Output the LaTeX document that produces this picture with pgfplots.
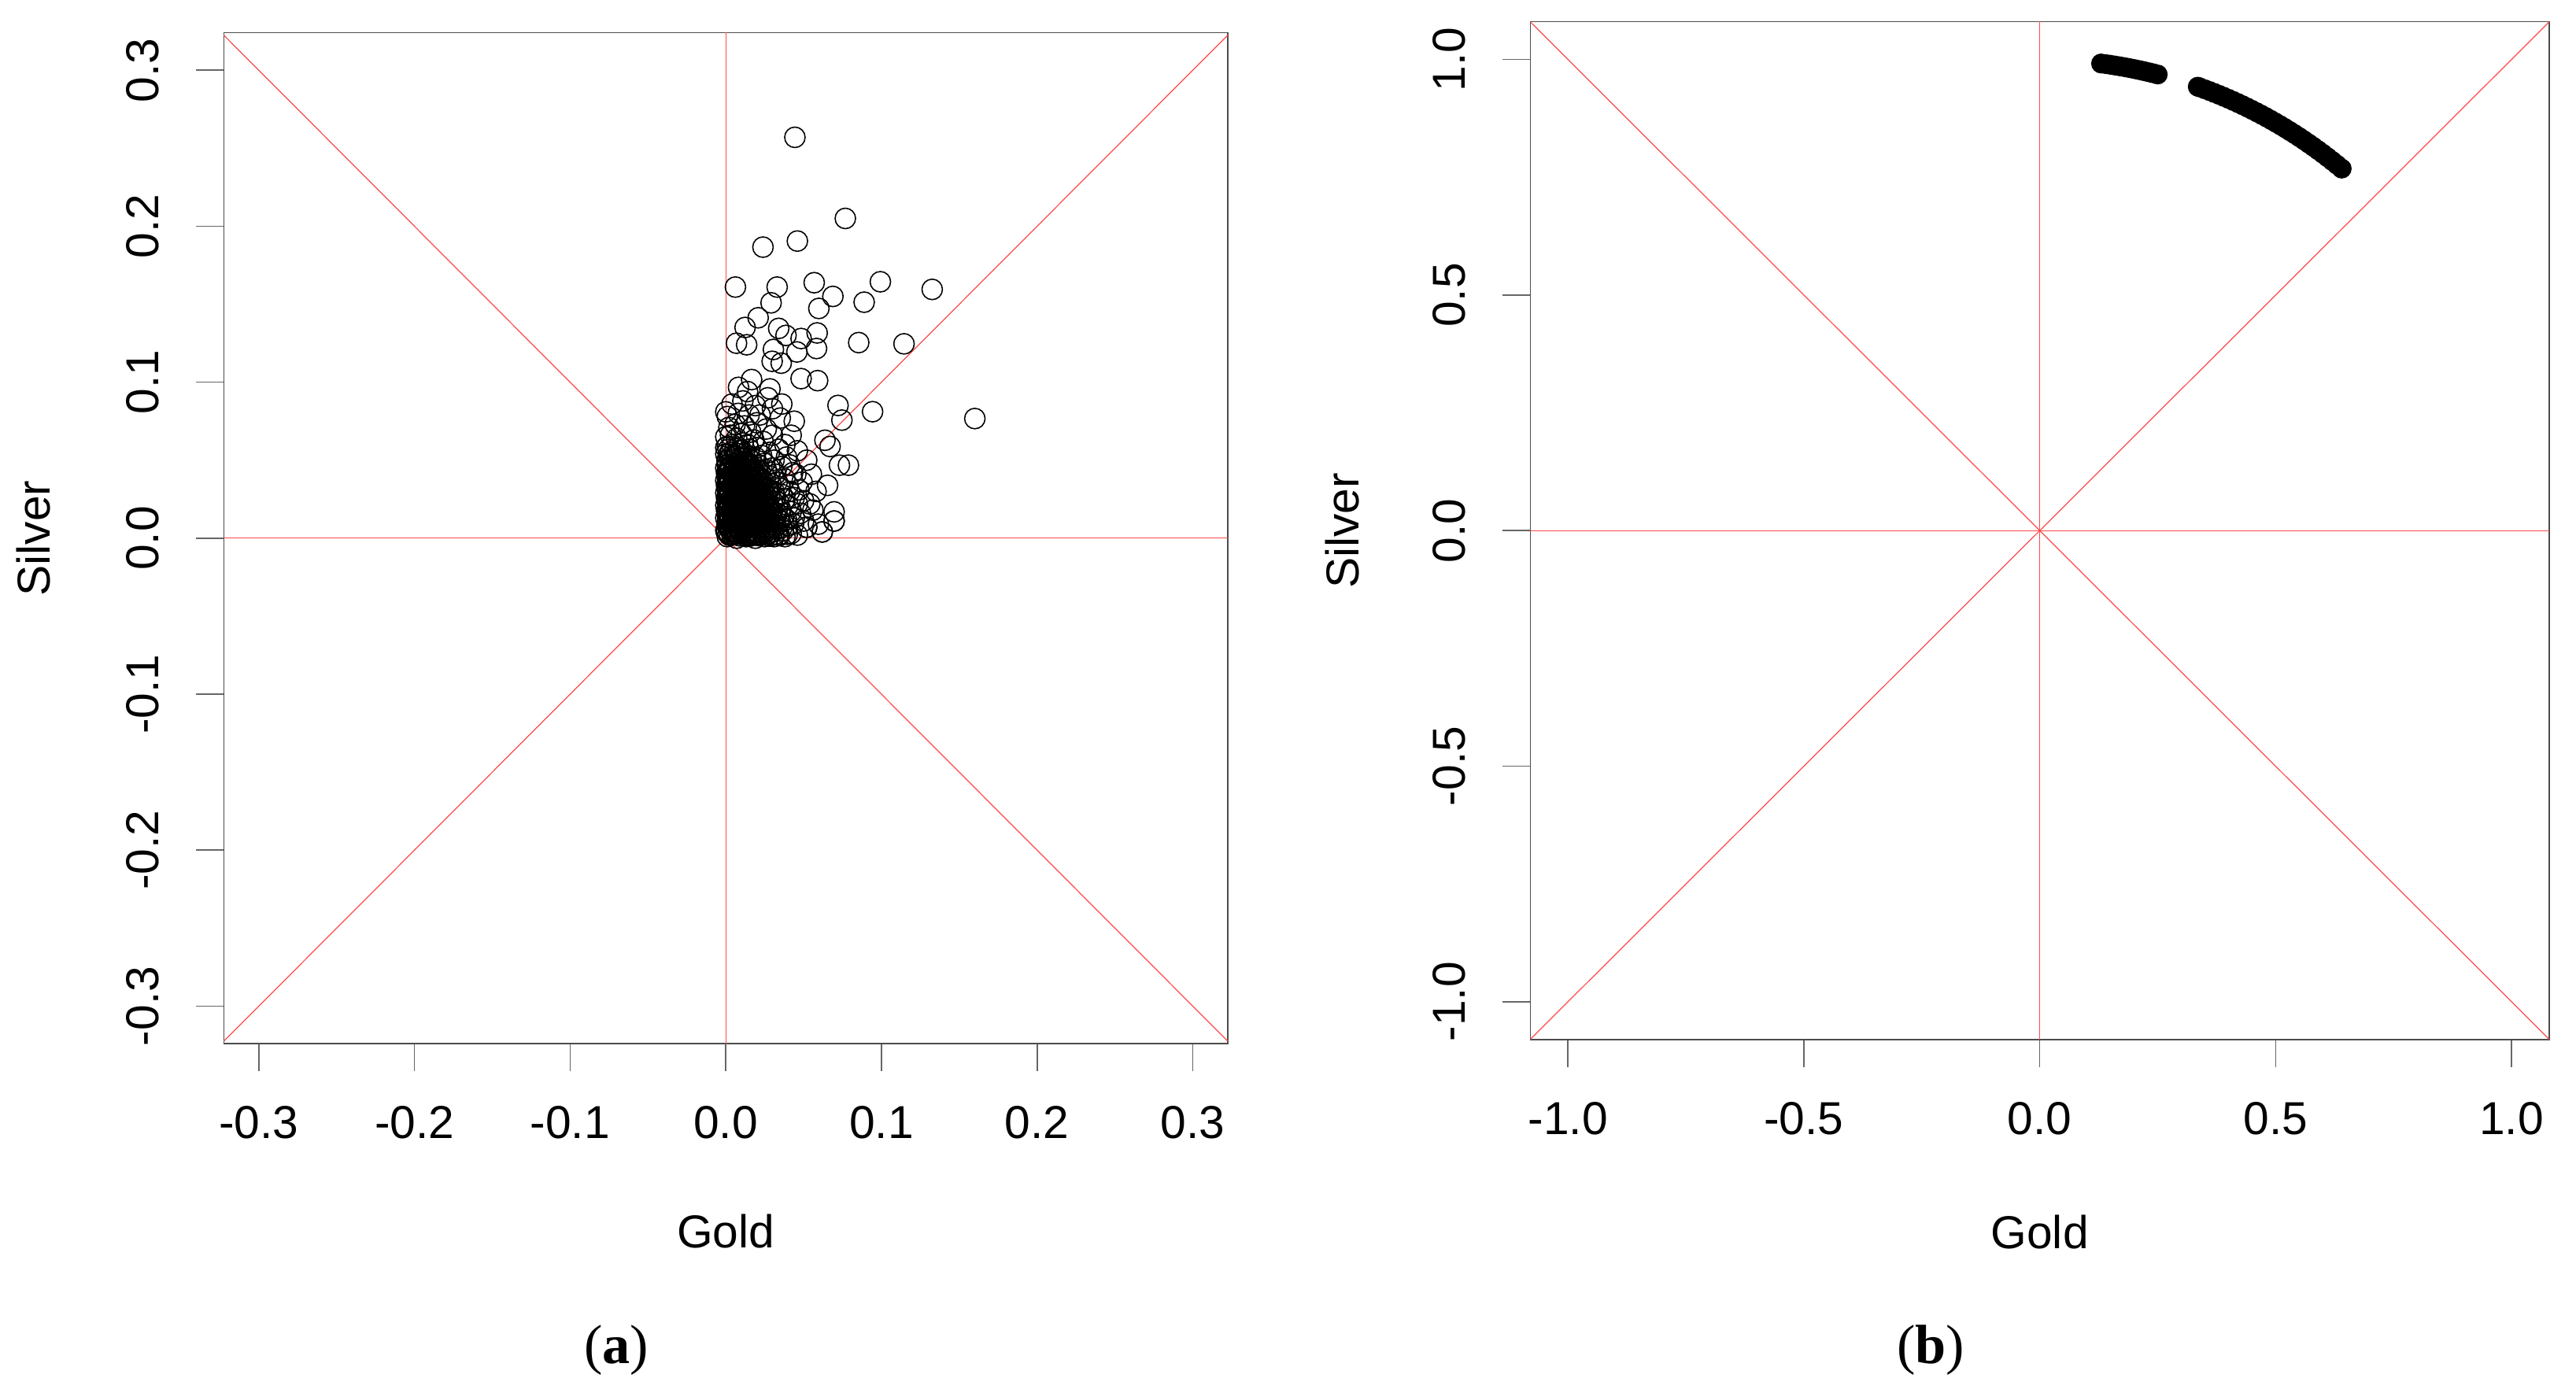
\documentclass[border=0pt]{standalone}
\usepackage{fontspec}
\setmainfont{Liberation Sans}
\newfontfamily\capfont{Liberation Serif}
\usepackage{xcolor}
\usepackage{pgfplots}
\usepackage{pgfplotstable}
\pgfplotsset{compat=1.18}
\definecolor{rline}{HTML}{FF4A4A}
\newcommand{\rfont}{\fontsize{16.7}{20}\selectfont}

% Gold vs Silver returns, panel (a)
\pgfplotstableread{
x y
0.001 0.001
0.004 0.002
0.007 0.000
0.010 0.003
0.013 0.001
0.016 0.002
0.019 0.000
0.022 0.002
0.025 0.001
0.028 0.003
0.031 0.001
0.034 0.002
0.038 0.001
0.042 0.003
0.046 0.002
0.052 0.007
0.0435 0.009
0.0595 0.009
0.062 0.004
0.0696 0.011
0.000 0.005
0.003 0.006
0.006 0.004
0.009 0.006
0.012 0.005
0.015 0.007
0.018 0.004
0.021 0.006
0.024 0.005
0.027 0.007
0.030 0.004
0.033 0.006
0.037 0.005
0.040 0.008
0.001 0.009
0.004 0.010
0.007 0.008
0.010 0.011
0.013 0.009
0.016 0.010
0.019 0.008
0.022 0.011
0.025 0.009
0.028 0.010
0.031 0.009
0.035 0.011
0.039 0.012
0.044 0.013
0.000 0.013
0.003 0.014
0.006 0.012
0.009 0.014
0.012 0.013
0.015 0.015
0.018 0.012
0.021 0.014
0.024 0.013
0.027 0.015
0.030 0.012
0.033 0.016
0.037 0.014
0.042 0.017
0.048 0.016
0.001 0.017
0.004 0.018
0.007 0.016
0.010 0.019
0.013 0.017
0.016 0.018
0.019 0.016
0.022 0.019
0.025 0.017
0.028 0.018
0.031 0.020
0.035 0.019
0.040 0.021
0.046 0.022
0.0654 0.0339
0.000 0.021
0.003 0.022
0.006 0.020
0.009 0.023
0.012 0.021
0.015 0.022
0.018 0.020
0.021 0.023
0.024 0.021
0.027 0.022
0.030 0.024
0.034 0.023
0.038 0.025
0.044 0.026
0.050 0.024
0.001 0.025
0.004 0.026
0.007 0.024
0.010 0.027
0.013 0.025
0.016 0.026
0.019 0.024
0.022 0.027
0.025 0.025
0.028 0.027
0.032 0.026
0.036 0.028
0.041 0.030
0.000 0.029
0.003 0.030
0.006 0.028
0.009 0.031
0.012 0.029
0.015 0.030
0.018 0.028
0.021 0.031
0.024 0.029
0.027 0.031
0.031 0.030
0.035 0.032
0.040 0.034
0.047 0.031
0.001 0.033
0.004 0.034
0.007 0.032
0.010 0.035
0.013 0.033
0.016 0.034
0.019 0.032
0.022 0.035
0.025 0.033
0.029 0.035
0.033 0.036
0.038 0.038
0.000 0.037
0.003 0.038
0.006 0.036
0.009 0.039
0.012 0.037
0.015 0.038
0.018 0.036
0.021 0.039
0.024 0.037
0.028 0.040
0.032 0.041
0.043 0.042
0.001 0.041
0.004 0.042
0.007 0.040
0.010 0.043
0.013 0.041
0.016 0.042
0.019 0.040
0.022 0.043
0.026 0.044
0.030 0.045
0.036 0.046
0.000 0.045
0.003 0.046
0.006 0.044
0.009 0.047
0.012 0.045
0.015 0.046
0.018 0.044
0.021 0.047
0.025 0.048
0.031 0.050
0.001 0.049
0.004 0.050
0.007 0.048
0.010 0.051
0.013 0.049
0.016 0.050
0.019 0.052
0.023 0.053
0.028 0.055
0.000 0.054
0.003 0.055
0.006 0.053
0.009 0.056
0.012 0.054
0.015 0.057
0.020 0.058
0.001 0.059
0.004 0.060
0.008 0.058
0.011 0.061
0.014 0.060
0.018 0.063
0.000 0.065
0.003 0.066
0.007 0.064
0.010 0.067
0.016 0.068
0.002 0.071
0.006 0.073
0.012 0.072
0.020 0.074
0.026 0.070
0.001 0.078
0.008 0.080
0.015 0.079
0.004 0.086
0.011 0.088
0.019 0.085
0.030 0.083
0.035 0.077
0.042 0.066
0.038 0.060
0.046 0.056
0.052 0.050
0.055 0.041
0.049 0.036
0.058 0.030
0.056 0.018
0.050 0.011
0.054 0.022
0.044 0.075
0.0015 0.003
0.0045 0.004
0.0075 0.0025
0.0105 0.0045
0.0135 0.0035
0.002 0.0075
0.005 0.0085
0.008 0.0065
0.011 0.008
0.014 0.007
0.0015 0.0115
0.0045 0.012
0.0085 0.0105
0.0115 0.0115
0.0145 0.011
0.002 0.0155
0.005 0.016
0.0085 0.015
0.0115 0.0155
0.0145 0.0165
0.0015 0.0195
0.0055 0.019
0.0085 0.0205
0.0115 0.019
0.0145 0.0195
0.002 0.0235
0.005 0.0245
0.008 0.0225
0.011 0.024
0.014 0.023
0.0015 0.0275
0.0045 0.028
0.008 0.027
0.0115 0.0275
0.0165 0.0285
0.002 0.0315
0.0055 0.032
0.0085 0.0305
0.0125 0.0315
0.017 0.031
0.0015 0.0355
0.005 0.036
0.0095 0.0345
0.0135 0.0355
0.002 0.0395
0.006 0.0405
0.011 0.039
0.0015 0.0435
0.0055 0.043
0.0105 0.0445
0.0175 0.003
0.0205 0.004
0.0235 0.0035
0.0265 0.0025
0.0295 0.0065
0.0175 0.0115
0.0205 0.0125
0.0235 0.0105
0.0265 0.0125
0.0175 0.0195
0.0205 0.0175
0.0235 0.019
0.0265 0.0195
0.0185 0.0265
0.0215 0.0285
0.0245 0.0235
0.0025 0.0018
0.0055 0.0024
0.0090 0.0015
0.0120 0.0022
0.0150 0.0012
0.0185 0.0020
0.0215 0.0016
0.0245 0.0024
0.0280 0.0013
0.0310 0.0021
0.0345 0.0017
0.0395 0.0025
0.0015 0.0068
0.0045 0.0072
0.0080 0.0064
0.0110 0.0075
0.0145 0.0066
0.0170 0.0073
0.0200 0.0069
0.0230 0.0076
0.0260 0.0065
0.0290 0.0071
0.0325 0.0078
0.0360 0.0069
0.0025 0.0108
0.0055 0.0114
0.0085 0.0112
0.0120 0.0106
0.0150 0.0118
0.0180 0.0109
0.0210 0.0113
0.0240 0.0117
0.0275 0.0107
0.0305 0.0115
0.0340 0.0121
0.0010 0.0148
0.0040 0.0154
0.0075 0.0146
0.0105 0.0157
0.0135 0.0149
0.0165 0.0153
0.0195 0.0145
0.0225 0.0156
0.0260 0.0151
0.0290 0.0158
0.0320 0.0147
0.0025 0.0188
0.0060 0.0194
0.0090 0.0186
0.0120 0.0197
0.0155 0.0189
0.0185 0.0192
0.0215 0.0186
0.0250 0.0195
0.0285 0.0189
0.0010 0.0228
0.0040 0.0233
0.0075 0.0226
0.0105 0.0236
0.0135 0.0229
0.0170 0.0234
0.0200 0.0227
0.0230 0.0238
0.0265 0.0231
0.0300 0.0236
0.0025 0.0268
0.0055 0.0274
0.0090 0.0266
0.0125 0.0277
0.0155 0.0269
0.0185 0.0273
0.0220 0.0267
0.0255 0.0276
0.0010 0.0308
0.0045 0.0314
0.0075 0.0306
0.0110 0.0317
0.0145 0.0309
0.0175 0.0313
0.0210 0.0307
0.0240 0.0316
0.0280 0.0311
0.0025 0.0348
0.0060 0.0354
0.0090 0.0346
0.0125 0.0357
0.0160 0.0349
0.0195 0.0353
0.0230 0.0347
0.0010 0.0388
0.0045 0.0394
0.0080 0.0386
0.0115 0.0397
0.0150 0.0389
0.0185 0.0393
0.0225 0.0387
0.0025 0.0428
0.0060 0.0434
0.0095 0.0426
0.0135 0.0437
0.0170 0.0429
0.0205 0.0433
0.0010 0.0468
0.0050 0.0474
0.0085 0.0466
0.0120 0.0477
0.0160 0.0469
0.0025 0.0518
0.0065 0.0524
0.0105 0.0516
0.0140 0.0527
0.0015 0.0568
0.0060 0.0574
0.0100 0.0566
0.0005 0.0040
0.0035 0.0043
0.0068 0.0038
0.0098 0.0042
0.0128 0.0036
0.0162 0.0041
0.0192 0.0037
0.0222 0.0044
0.0252 0.0039
0.0008 0.0095
0.0040 0.0098
0.0072 0.0092
0.0103 0.0097
0.0133 0.0093
0.0168 0.0099
0.0198 0.0094
0.0228 0.0096
0.0025 0.0135
0.0058 0.0138
0.0090 0.0132
0.0122 0.0137
0.0155 0.0133
0.0188 0.0139
0.0218 0.0134
0.0005 0.0175
0.0038 0.0178
0.0070 0.0172
0.0102 0.0177
0.0137 0.0173
0.0170 0.0179
0.0200 0.0174
0.0232 0.0176
0.0022 0.0215
0.0055 0.0218
0.0088 0.0212
0.0120 0.0217
0.0152 0.0213
0.0187 0.0219
0.0220 0.0214
0.0005 0.0255
0.0038 0.0258
0.0070 0.0252
0.0105 0.0257
0.0138 0.0253
0.0172 0.0259
0.0205 0.0254
0.0022 0.0295
0.0056 0.0298
0.0090 0.0292
0.0124 0.0297
0.0158 0.0293
0.0192 0.0299
0.0005 0.0335
0.0040 0.0338
0.0074 0.0332
0.0108 0.0337
0.0142 0.0333
0.0178 0.0339
0.0022 0.0375
0.0058 0.0378
0.0092 0.0372
0.0128 0.0377
0.0165 0.0373
0.0005 0.0415
0.0040 0.0418
0.0076 0.0412
0.0112 0.0417
0.0150 0.0413
0.0022 0.0455
0.0060 0.0458
0.0098 0.0452
0.0138 0.0457
0.0008 0.0500
0.0045 0.0503
0.0085 0.0497
0.0020 0.0540
0.0075 0.0543
0.024 0.062
0.030 0.066
0.034 0.057
0.039 0.052
0.022 0.079
0.027 0.090
0.014 0.094
0.036 0.086
0.041 0.047
0.045 0.041
0.0444 0.257
0.0768 0.205
0.046 0.1905
0.0239 0.1866
0.0062 0.161
0.033 0.161
0.0568 0.1638
0.0688 0.155
0.0993 0.1644
0.1326 0.1595
0.0889 0.1513
0.0598 0.1473
0.0291 0.1509
0.0208 0.1413
0.0124 0.1351
0.0069 0.125
0.0134 0.124
0.034 0.1345
0.0387 0.130
0.0484 0.128
0.0587 0.1316
0.0583 0.1216
0.0457 0.1194
0.0306 0.121
0.0298 0.1134
0.0356 0.1122
0.0854 0.1254
0.1145 0.1246
0.0484 0.1023
0.059 0.101
0.0943 0.0811
0.160 0.0767
0.0721 0.0851
0.0746 0.0757
0.0788 0.0468
0.073 0.0468
0.0696 0.0169
0.062 0.004
0.0696 0.011
0.067 0.0588
0.0637 0.0628
0.052 0.007
0.0166 0.1017
0.0082 0.0967
0.0284 0.0957
0.000 0.081
0.000 0.058
}\goldsilver

% Panel (b): points on the unit circle
\pgfplotstableread{
x y
0.13 0.9915
0.14 0.9902
0.15 0.9887
0.16 0.9871
0.17 0.9854
0.18 0.9837
0.19 0.9818
0.20 0.9798
0.21 0.9777
0.22 0.9755
0.23 0.9732
0.24 0.9708
0.25 0.9682
0.335 0.9422
0.34 0.9404
0.35 0.9367
0.36 0.9330
0.37 0.9290
0.38 0.9250
0.39 0.9208
0.40 0.9165
0.41 0.9121
0.42 0.9075
0.43 0.9028
0.44 0.8980
0.45 0.8930
0.46 0.8879
0.47 0.8827
0.48 0.8773
0.49 0.8717
0.50 0.8660
0.51 0.8602
0.52 0.8542
0.53 0.8480
0.54 0.8417
0.55 0.8352
0.56 0.8285
0.57 0.8216
0.58 0.8146
0.59 0.8074
0.60 0.8000
0.61 0.7924
0.62 0.7846
0.63 0.7766
0.64 0.7684
}\unitarc

\pgfplotsset{
  rbase/.style={
    scale only axis,
    axis line style={black!70, line width=0.45pt},
    tick style={black!60, line width=0.45pt},
    tick align=outside,
    major tick length=0.35cm,
    xtick pos=bottom, ytick pos=left,
    tick label style={font=\rfont},
    label style={font=\rfont},
    /pgf/number format/assume math mode=true,
    /pgf/number format/fixed, /pgf/number format/fixed zerofill,
    /pgf/number format/precision=1,
    xticklabel style={anchor=north, inner sep=0pt},
    yticklabel style={rotate=90, anchor=base, inner sep=0pt},
    xticklabel shift=0.44cm,
    yticklabel shift=0.48cm,
  },
  redl/.style={rline, line width=0.35pt, forget plot},
}

\begin{document}
\begin{tikzpicture}
\useasboundingbox (0,0) rectangle (32.73,-17.70);

\begin{axis}[rbase, anchor=south west, at={(2.843cm,-13.26cm)},
  width=12.757cm, height=12.843cm,
  xmin=-0.3225, xmax=0.3225, ymin=-0.324, ymax=0.324,
  xtick={-0.3,-0.2,...,0.31}, ytick={-0.3,-0.2,...,0.31},
  xlabel={Gold}, ylabel={Silver},
  xlabel style={at={(axis description cs:0.5,-0.186)}, anchor=center},
  ylabel style={at={(axis description cs:-0.1897,0.5)}, anchor=center},
]
\addplot[only marks, mark=o, mark size=3.7pt, black, line width=0.45pt] table {\goldsilver};
\addplot[redl] coordinates {(-0.4,0) (0.4,0)};
\addplot[redl] coordinates {(0,-0.4) (0,0.4)};
\addplot[redl] coordinates {(-0.4,-0.4) (0.4,0.4)};
\addplot[redl] coordinates {(-0.4,0.4) (0.4,-0.4)};
\end{axis}

\begin{axis}[rbase, anchor=south west, at={(19.443cm,-13.207cm)},
  width=12.947cm, height=12.93cm,
  xmin=-1.08, xmax=1.08, ymin=-1.08, ymax=1.08,
  xtick={-1,-0.5,0,0.5,1}, ytick={-1,-0.5,0,0.5,1},
  xlabel={Gold}, ylabel={Silver},
  xlabel style={at={(axis description cs:0.5,-0.189)}, anchor=center},
  ylabel style={at={(axis description cs:-0.1846,0.5)}, anchor=center},
]
\addplot[only marks, mark=*, mark size=3.4pt, black, line width=0.4pt] table {\unitarc};
\addplot[redl] coordinates {(-1.2,0) (1.2,0)};
\addplot[redl] coordinates {(0,-1.2) (0,1.2)};
\addplot[redl] coordinates {(-1.2,-1.2) (1.2,1.2)};
\addplot[redl] coordinates {(-1.2,1.2) (1.2,-1.2)};
\end{axis}

\node[font={\capfont\fontsize{20}{24}\selectfont}] at (7.83,-17.16) {(\textbf{a})};
\node[font={\capfont\fontsize{20}{24}\selectfont}] at (24.53,-17.16) {(\textbf{b})};
\end{tikzpicture}
\end{document}
